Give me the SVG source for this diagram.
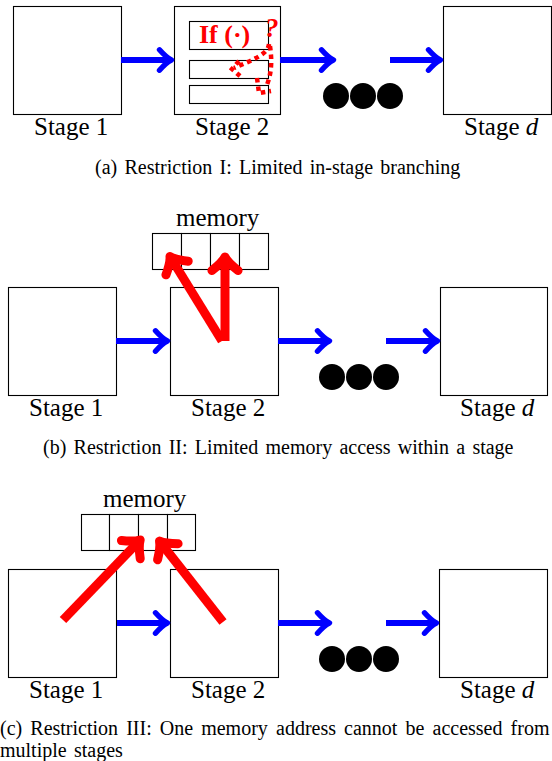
<svg xmlns="http://www.w3.org/2000/svg" width="552" height="761" viewBox="0 0 552 761">
<style>
.box{fill:#fff;stroke:#000;stroke-width:1.1}
.cell{fill:#fff;stroke:#000;stroke-width:1.1}
.lbl{font-family:"Liberation Serif","Times New Roman",serif;font-size:25px;fill:#000}
.cap{font-family:"Liberation Serif","Times New Roman",serif;font-size:20px;fill:#000;word-spacing:2.3px}
.blue{stroke:#0000ff;stroke-width:6;fill:none;marker-end:url(#ab)}
.red{stroke:#ff0000;stroke-width:9;fill:none;marker-end:url(#ar)}
.dot{stroke:#ff0000;stroke-width:4.5;fill:none;stroke-dasharray:4.5 4}
.ball{fill:#000}
</style>
<defs>
<marker id="ab" markerUnits="strokeWidth" orient="auto" overflow="visible" refX="0" refY="0" markerWidth="1" markerHeight="1">
<path d="M -2 -1.7 Q -0.8 -0.35 0 0 Q -0.8 0.35 -2 1.7" fill="none" stroke="#0000ff" stroke-width="0.9" stroke-linecap="round" stroke-linejoin="round"/>
</marker>
<marker id="ar" markerUnits="strokeWidth" orient="auto" overflow="visible" refX="0" refY="0" markerWidth="1" markerHeight="1">
<path d="M -1.5 -1.45 Q -0.6 -0.3 0 0 Q -0.6 0.3 -1.5 1.45" fill="none" stroke="#ff0000" stroke-width="1" stroke-linecap="round" stroke-linejoin="round"/>
</marker>
</defs>

<!-- Panel (a) -->
<g id="a-stage1">
<rect class="box" x="13.5" y="6.5" width="108" height="108"/>
<text class="lbl" x="34" y="135">Stage 1</text>
</g>
<g id="a-stage2">
<rect class="box" x="174.5" y="6.5" width="106" height="108"/>
<rect class="cell" x="189.5" y="21.5" width="79" height="28"/>
<rect class="cell" x="189.5" y="60.5" width="79" height="18"/>
<rect class="cell" x="189.5" y="85.5" width="79" height="18"/>
<text x="199" y="43" font-family="'Liberation Serif','Times New Roman',serif" font-size="26" font-weight="bold" fill="#ff0000">If (·)</text>
<text x="265" y="37" font-family="'Liberation Serif','Times New Roman',serif" font-size="27" font-weight="bold" font-style="italic" fill="#ff0000">?</text>
<text class="lbl" x="195" y="135">Stage 2</text>
</g>
<g id="a-dots">
<circle class="ball" cx="336" cy="96" r="13"/>
<circle class="ball" cx="363" cy="96" r="13"/>
<circle class="ball" cx="390" cy="96" r="13"/>
</g>
<g id="a-staged">
<rect class="box" x="443.5" y="6.5" width="108" height="108"/>
<text class="lbl" x="464" y="135">Stage <tspan font-style="italic">d</tspan></text>
</g>
<text class="cap" x="95" y="174">(a) Restriction I: Limited in-stage branching</text>

<!-- Panel (b) -->
<g id="b-memory">
<text class="lbl" x="176" y="226">memory</text>
<rect class="cell" x="152.5" y="233.5" width="29" height="36"/>
<rect class="cell" x="181.5" y="233.5" width="29" height="36"/>
<rect class="cell" x="210.5" y="233.5" width="29" height="36"/>
<rect class="cell" x="239.5" y="233.5" width="29" height="36"/>
</g>
<g id="b-stage1">
<rect class="box" x="8.5" y="287.5" width="108" height="108"/>
<text class="lbl" x="29" y="416">Stage 1</text>
</g>
<g id="b-stage2">
<rect class="box" x="170.5" y="287.5" width="108" height="108"/>
<text class="lbl" x="191" y="416">Stage 2</text>
</g>
<g id="b-dots">
<circle class="ball" cx="332" cy="377" r="13"/>
<circle class="ball" cx="359" cy="377" r="13"/>
<circle class="ball" cx="386" cy="377" r="13"/>
</g>
<g id="b-staged">
<rect class="box" x="440.5" y="287.5" width="107" height="108"/>
<text class="lbl" x="460" y="416">Stage <tspan font-style="italic">d</tspan></text>
</g>
<text class="cap" x="43" y="454">(b) Restriction II: Limited memory access within a stage</text>

<!-- Panel (c) -->
<g id="c-memory">
<text class="lbl" x="103" y="507">memory</text>
<rect class="cell" x="81.5" y="514.5" width="28" height="36"/>
<rect class="cell" x="109.5" y="514.5" width="29" height="36"/>
<rect class="cell" x="138.5" y="514.5" width="29" height="36"/>
<rect class="cell" x="167.5" y="514.5" width="28" height="36"/>
</g>
<g id="c-stage1">
<rect class="box" x="8.5" y="569.5" width="108" height="108"/>
<text class="lbl" x="29" y="698">Stage 1</text>
</g>
<g id="c-stage2">
<rect class="box" x="170.5" y="569.5" width="108" height="108"/>
<text class="lbl" x="191" y="698">Stage 2</text>
</g>
<g id="c-dots">
<circle class="ball" cx="332" cy="659" r="13"/>
<circle class="ball" cx="359" cy="659" r="13"/>
<circle class="ball" cx="386" cy="659" r="13"/>
</g>
<g id="c-staged">
<rect class="box" x="439.5" y="569.5" width="108" height="108"/>
<text class="lbl" x="460" y="698">Stage <tspan font-style="italic">d</tspan></text>
</g>
<text class="cap" y="735" style="word-spacing:0"><tspan x="0">(c)</tspan><tspan x="30.3">Restriction</tspan><tspan x="126.2">III:</tspan><tspan x="159.8">One</tspan><tspan x="201.2">memory</tspan><tspan x="276">address</tspan><tspan x="344.1">cannot</tspan><tspan x="405.5">be</tspan><tspan x="432.5">accessed</tspan><tspan x="510.6">from</tspan></text>
<text class="cap" x="0" y="757">multiple stages</text>

<!-- Connectors -->
<g id="connectors">
<line class="blue" x1="121" y1="60" x2="171.5" y2="60"/>
<line class="blue" x1="280" y1="60" x2="333.5" y2="60"/>
<line class="blue" x1="390" y1="60" x2="440.5" y2="60"/>
<line class="blue" x1="116" y1="341" x2="167.5" y2="341"/>
<line class="blue" x1="278" y1="341" x2="329.5" y2="341"/>
<line class="blue" x1="386" y1="341" x2="437.5" y2="341"/>
<line class="blue" x1="117" y1="623" x2="167.5" y2="623"/>
<line class="blue" x1="278" y1="623" x2="329.5" y2="623"/>
<line class="blue" x1="386" y1="623" x2="436.5" y2="623"/>
<path class="dot" d="M 269 44 C 268 54 255 59 234 68"/>
<path class="dot" d="M 239 61 L 232 69 L 240 76"/>
<path class="dot" d="M 270 46 C 272 60 272 74 266 87"/>
<path class="dot" d="M 257 78 L 259 93 L 271 91"/>
<line class="red" x1="222" y1="341" x2="170" y2="256.5"/>
<line class="red" x1="225" y1="341" x2="225" y2="257"/>
<line class="red" x1="63" y1="620" x2="140.2" y2="539.9"/>
<line class="red" x1="223" y1="622" x2="159.5" y2="541.1"/>
</g>
</svg>
